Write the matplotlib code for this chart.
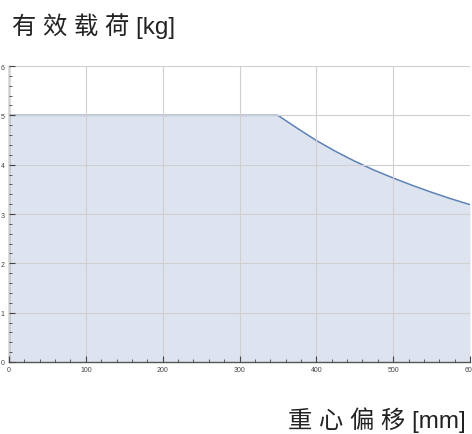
import matplotlib
matplotlib.use("Agg")
import matplotlib.pyplot as plt
from matplotlib.ticker import MultipleLocator

plt.rcParams['font.family'] = ['Liberation Sans', 'Noto Sans CJK SC', 'DejaVu Sans']

# 重心偏移 [mm] / 有效载荷 [kg]
offset_mm = [0, 350, 375, 400, 425, 450, 475, 500, 525, 550, 575, 600]
payload_kg = [5.0, 5.0, 4.74, 4.49, 4.27, 4.07, 3.89, 3.73, 3.58, 3.44, 3.31, 3.19]

line_color = "#5E81B5"

fig = plt.figure(figsize=(4.72, 4.35), dpi=100)
ax = fig.add_axes([9 / 472, 1 - 363 / 435, 461 / 472, 296 / 435])

ax.fill_between(offset_mm, payload_kg, 0, color="#DEE4EF", lw=0)
ax.plot(offset_mm, payload_kg, color=line_color, lw=1.1)

ax.set_xlim(0, 600)
ax.set_ylim(0, 6)
ax.xaxis.set_major_locator(MultipleLocator(100))
ax.xaxis.set_minor_locator(MultipleLocator(20))
ax.yaxis.set_major_locator(MultipleLocator(1))
ax.yaxis.set_minor_locator(MultipleLocator(0.2))
ax.grid(True, which="major", color="#CFCFCF", lw=0.8)
ax.set_axisbelow(False)

for s in ("top", "right"):
    ax.spines[s].set_visible(False)
for s in ("left", "bottom"):
    ax.spines[s].set_color("#555555")
    ax.spines[s].set_linewidth(1.0)

ax.tick_params(which="major", direction="in", length=4, width=0.8, color="#444444",
               labelsize=5, labelcolor="#444444", pad=3)
ax.tick_params(which="minor", direction="in", length=2, width=0.6, color="#444444")

fig.text(12 / 472, 1 - 26 / 435, "有 效 载 荷 [kg]", fontsize=17.5, fontweight="light",
         va="center", ha="left", color="#222222")
fig.text(466 / 472, 1 - 420 / 435, "重 心 偏 移 [mm]", fontsize=17.5, fontweight="light",
         va="center", ha="right", color="#222222")

fig.savefig("out.png", dpi=100)
